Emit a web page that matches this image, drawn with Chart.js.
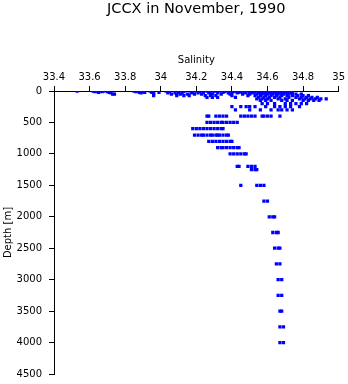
<!DOCTYPE html>
<html>
<head>
<meta charset="utf-8">
<script src="https://cdn.jsdelivr.net/npm/chart.js@4"></script>
<style>
  body { margin: 0; background: #fff; }
</style>
</head>
<body>
<canvas id="myChart" width="348" height="384"></canvas>
<script>
const ctx = document.querySelector('#myChart');

const titleText = 'JCCX in November, 1990';

// standard sampling depths [m]
const depths = [0, 10, 20, 30, 50, 75, 100, 125, 150, 200, 250, 300, 400, 500, 600, 700, 800, 900, 1000,
    1200, 1250, 1500, 1750, 2000, 2250, 2500, 2750, 3000, 3250, 3500, 3750, 4000];

// salinity readings at each depth (one list per depth)
const salinities = [
    [33.53, 33.62, 33.64, 33.66, 33.68, 33.85, 33.87, 33.89, 33.94, 34.03, 34.20, 34.26, 34.33, 34.38, 34.42, 34.47, 34.51, 34.55, 34.58, 34.61, 34.64, 34.67, 34.70],
    [33.63, 33.67, 33.70, 33.86, 33.90, 33.95, 34.05, 34.13, 34.22, 34.30, 34.36, 34.41, 34.45, 34.50, 34.53, 34.57, 34.60, 34.63, 34.66, 34.69, 34.72],
    [33.65, 33.71, 33.88, 33.91, 33.95, 33.99, 34.10, 34.17, 34.24, 34.28, 34.35, 34.40, 34.44, 34.48, 34.52, 34.56, 34.59, 34.62, 34.65, 34.68, 34.71, 34.74],
    [33.72, 33.89, 33.96, 34.04, 34.08, 34.12, 34.18, 34.21, 34.27, 34.32, 34.38, 34.43, 34.47, 34.51, 34.55, 34.58, 34.61, 34.64, 34.67, 34.70, 34.73],
    [33.73, 33.74, 33.96, 34.06, 34.09, 34.11, 34.15, 34.19, 34.23, 34.29, 34.34, 34.39, 34.46, 34.50, 34.54, 34.57, 34.60, 34.63, 34.66, 34.69, 34.72, 34.76, 34.79],
    [33.96, 34.09, 34.13, 34.16, 34.25, 34.28, 34.31, 34.40, 34.49, 34.53, 34.56, 34.59, 34.62, 34.65, 34.68, 34.71, 34.74, 34.77, 34.80, 34.83],
    [34.26, 34.29, 34.32, 34.42, 34.55, 34.58, 34.61, 34.64, 34.67, 34.72, 34.76, 34.79, 34.82, 34.85, 34.88],
    [34.54, 34.57, 34.60, 34.66, 34.70, 34.78, 34.81, 34.84, 34.87, 34.90, 34.93],
    [34.56, 34.59, 34.62, 34.68, 34.71, 34.74, 34.80, 34.83, 34.86, 34.89],
    [34.57, 34.60, 34.64, 34.70, 34.73, 34.76, 34.79, 34.82],
    [34.40, 34.45, 34.48, 34.50, 34.53, 34.59, 34.64, 34.67, 34.70, 34.73, 34.78],
    [34.42, 34.50, 34.56, 34.62, 34.66, 34.68, 34.71, 34.74],
    [34.26, 34.27, 34.31, 34.33, 34.35, 34.37, 34.45, 34.47, 34.49, 34.51, 34.53, 34.57, 34.58, 34.60, 34.62, 34.67],
    [34.26, 34.28, 34.30, 34.32, 34.34, 34.35, 34.37, 34.39, 34.41, 34.43],
    [34.18, 34.20, 34.22, 34.24, 34.26, 34.28, 34.30, 34.32, 34.34, 34.35],
    [34.19, 34.21, 34.23, 34.24, 34.26, 34.28, 34.29, 34.31, 34.32, 34.33, 34.35, 34.37, 34.38],
    [34.27, 34.29, 34.31, 34.33, 34.35, 34.37, 34.39, 34.40],
    [34.32, 34.34, 34.35, 34.37, 34.39, 34.41, 34.43, 34.44],
    [34.39, 34.41, 34.43, 34.45, 34.47, 34.48],
    [34.43, 34.44, 34.49, 34.51, 34.53],
    [34.51, 34.53, 34.54],
    [34.45, 34.54, 34.56, 34.58],
    [34.58, 34.60],
    [34.61, 34.63, 34.64],
    [34.63, 34.65, 34.66],
    [34.64, 34.66, 34.67],
    [34.65, 34.67],
    [34.66, 34.68],
    [34.66, 34.68],
    [34.67, 34.68],
    [34.67, 34.69],
    [34.67, 34.69]
];

const xTicks = [33.4, 33.6, 33.8, 34, 34.2, 34.4, 34.6, 34.8, 35];
const yTicks = [0, 500, 1000, 1500, 2000, 2500, 3000, 3500, 4000, 4500];

const points = [];
depths.forEach((d, i) => {
    salinities[i].forEach(s => points.push({ x: s, y: d }));
});

Chart.defaults.font.family = "'DejaVu Sans', sans-serif";
Chart.defaults.font.size = 10;
Chart.defaults.color = '#000';

// title centred over the plot area, not the whole canvas
const plotTitle = {
    id: 'plotTitle',
    afterDraw(chart) {
        const c = chart.ctx;
        const area = chart.chartArea;
        c.save();
        c.font = "14.5px 'DejaVu Sans', sans-serif";
        c.fillStyle = '#000';
        c.textAlign = 'center';
        c.textBaseline = 'alphabetic';
        c.fillText(titleText, (area.left + area.right) / 2, 13);
        c.restore();
    }
};

const axisLook = {
    grid: { drawOnChartArea: false, drawTicks: true, tickLength: 5, color: '#000' },
    border: { color: '#000', width: 1 }
};

new Chart(ctx, {
    type: 'scatter',
    data: {
        datasets: [{
            data: points,
            pointStyle: 'rect',
            pointRadius: 2.3,
            borderWidth: 0,
            backgroundColor: 'rgb(0,0,255)'
        }]
    },
    options: {
        responsive: false,
        animation: false,
        layout: { padding: { top: 52, right: 9, bottom: 10, left: 0 } },
        plugins: {
            legend: { display: false },
            tooltip: { enabled: false }
        },
        scales: {
            x: {
                position: 'top',
                min: 33.4,
                max: 35,
                afterBuildTicks: axis => { axis.ticks = xTicks.map(v => ({ value: v })); },
                ticks: { padding: 3, callback: v => String(v) },
                title: { display: true, text: 'Salinity', padding: { top: 2, bottom: 2 } },
                ...axisLook
            },
            y: {
                reverse: true,
                min: 0,
                max: 4500,
                afterBuildTicks: axis => { axis.ticks = yTicks.map(v => ({ value: v })); },
                afterFit: axis => {
                    axis.width = 54;
                    axis.paddingTop = 0;
                    axis.paddingBottom = 0;
                },
                ticks: { padding: 7, callback: v => String(v) },
                title: { display: true, text: 'Depth [m]', padding: { top: 2, bottom: 2 } },
                ...axisLook
            }
        }
    },
    plugins: [plotTitle]
});
</script>
</body>
</html>
